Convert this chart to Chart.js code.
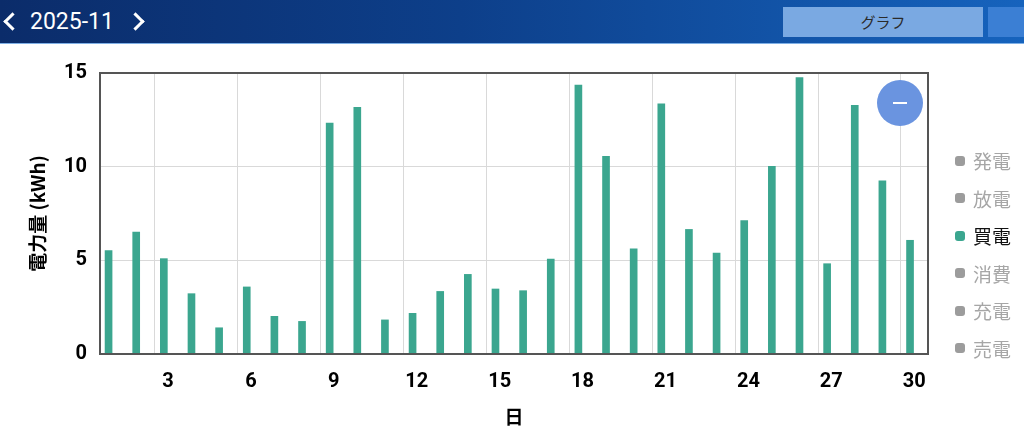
<!DOCTYPE html>
<html lang="ja">
<head>
<meta charset="utf-8">
<title>電力量グラフ</title>
<script src="https://cdn.jsdelivr.net/npm/chart.js@4"></script>
<style>
  html, body { margin: 0; padding: 0; width: 1024px; height: 434px; overflow: hidden; background: #fff; }
  body { position: relative; font-family: Roboto, "Noto Sans CJK JP", sans-serif; }
  .header {
    position: absolute; left: 0; top: 0; width: 1024px; height: 43px;
    background: linear-gradient(90deg, #0b2c6a 0%, #0d3f8a 45%, #1663bd 100%);
    border-bottom: 1px solid #7fb0e6;
  }
  .month { position: absolute; left: 30px; top: 7px; color: #fff; font-size: 23px; line-height: 30px; }
  .chev { position: absolute; top: 15px; width: 10px; height: 10px; border-top: 3px solid #fff; border-left: 3px solid #fff; }
  .chev.l { left: 6px; transform: rotate(-45deg); }
  .chev.r { left: 129px; transform: rotate(135deg); }
  .tab {
    position: absolute; top: 7px; height: 30px; line-height: 30px; text-align: center;
    font-family: "Noto Sans CJK JP", sans-serif; font-size: 15px; color: #2a2a2a;
  }
  .tab1 { left: 783px; width: 200px; background: #7aa9e2; }
  .tab2 { left: 988px; width: 40px; background: #3b7fd4; }
  #wrap { position: absolute; left: 0; top: 44px; width: 1024px; height: 390px; }
  .minus {
    position: absolute; left: 877px; top: 80px; width: 46px; height: 46px; border-radius: 50%;
    background: #6a94e0;
  }
  .minus::after {
    content: ""; position: absolute; left: 16px; top: 22px; width: 14px; height: 2px; background: #fff;
  }
  #legend { position: absolute; left: 955px; top: 142px; }
  .item { height: 37.5px; display: flex; align-items: center; font-family: "Noto Sans CJK JP", sans-serif;
          font-size: 19px; color: #a6a6a6; }
  .item .mark { width: 10px; height: 10px; border-radius: 3px; background: #9c9c9c; margin-right: 8px; }
  .item.on { color: #111; }
  .item.on .mark { background: #3ba68f; }
</style>
</head>
<body>
<div class="header">
  <div class="chev l"></div>
  <div class="month">2025-11</div>
  <div class="chev r"></div>
  <div class="tab tab1">グラフ</div>
  <div class="tab tab2"></div>
</div>
<div id="wrap"><canvas id="energyChart"></canvas></div>
<div class="minus"></div>
<div id="legend"></div>

<script>
/* ---------- DATA ---------- */
const DAYS = [1, 2, 3, 4, 5, 6, 7, 8, 9, 10, 11, 12, 13, 14, 15,
              16, 17, 18, 19, 20, 21, 22, 23, 24, 25, 26, 27, 28, 29, 30];
const BUY_KWH = [5.52, 6.51, 5.09, 3.22, 1.40, 3.58, 2.01, 1.74, 12.33, 13.17,
                 1.82, 2.17, 3.34, 4.25, 3.47, 3.38, 5.07, 14.36, 10.55, 5.61,
                 13.36, 6.65, 5.39, 7.12, 10.02, 14.75, 4.82, 13.27, 9.25, 6.07];
const X_TICK_DAYS = [3, 6, 9, 12, 15, 18, 21, 24, 27, 30];
const X_TICK_LABELS = ["3", "6", "9", "12", "15", "18", "21", "24", "27", "30"];
const Y_TICKS = [0, 5, 10, 15];
const SERIES = ["発電", "放電", "買電", "消費", "充電", "売電"];
const ACTIVE = "買電";

/* ---------- COLORS ---------- */
const TEAL = "#3ba68f";
const GRID = "#d9d9d9";
const FRAME = "#555555";

/* ---------- LEGEND ---------- */
const legendBox = document.getElementById("legend");
SERIES.forEach(name => {
    const row = document.createElement("div");
    row.className = "item" + (name === ACTIVE ? " on" : "");
    row.innerHTML = '<span class="mark"></span>' + name;
    legendBox.appendChild(row);
});

/* frame round the plot area */
const framePlugin = {
    id: "frame",
    afterDraw(chart) {
        const { ctx, chartArea: a } = chart;
        ctx.save();
        ctx.strokeStyle = FRAME;
        ctx.lineWidth = 2;
        ctx.strokeRect(a.left, a.top, a.right - a.left, a.bottom - a.top);
        ctx.restore();
    }
};

const tickFont = { family: "Roboto", size: 20, weight: "bold" };
const titleFont = { family: "'Noto Sans CJK JP', Roboto", size: 19, weight: "bold" };

new Chart(document.getElementById("energyChart"), {
    type: "bar",
    data: {
        datasets: [{
            label: ACTIVE,
            data: DAYS.map((d, i) => ({ x: d, y: BUY_KWH[i] })),
            backgroundColor: TEAL,
            barThickness: 7
        }]
    },
    options: {
        responsive: true,
        maintainAspectRatio: false,
        animation: false,
        layout: { padding: { left: 0, right: 96, top: 29, bottom: 0 } },
        plugins: {
            legend: { display: false },
            tooltip: { enabled: false }
        },
        scales: {
            x: {
                type: "linear",
                offset: false,
                min: 0.69,
                max: 30.65,
                afterBuildTicks: s => { s.ticks = X_TICK_DAYS.map(d => ({ value: d - 0.33 })); },
                afterFit: s => { s.height = 80; },
                grid: { color: GRID, drawTicks: false, offset: false },
                border: { display: false },
                ticks: {
                    color: "#000",
                    font: tickFont,
                    padding: 16,
                    labelOffset: 13.3,
                    maxRotation: 0,
                    autoSkip: false,
                    callback: (v, i) => X_TICK_LABELS[i]
                },
                title: { display: true, text: "日", color: "#000", font: titleFont, padding: { top: 6, bottom: 6 } }
            },
            y: {
                min: 0,
                max: 15,
                afterBuildTicks: s => { s.ticks = Y_TICKS.map(v => ({ value: v })); },
                afterFit: s => { s.width = 100; },
                grid: { color: GRID, drawTicks: false },
                border: { display: false },
                ticks: { color: "#000", font: tickFont, padding: 13 },
                title: { display: true, text: "電力量 (kWh)", color: "#000", font: titleFont, padding: { top: 26, bottom: 4 } }
            }
        }
    },
    plugins: [framePlugin]
});
</script>
</body>
</html>
